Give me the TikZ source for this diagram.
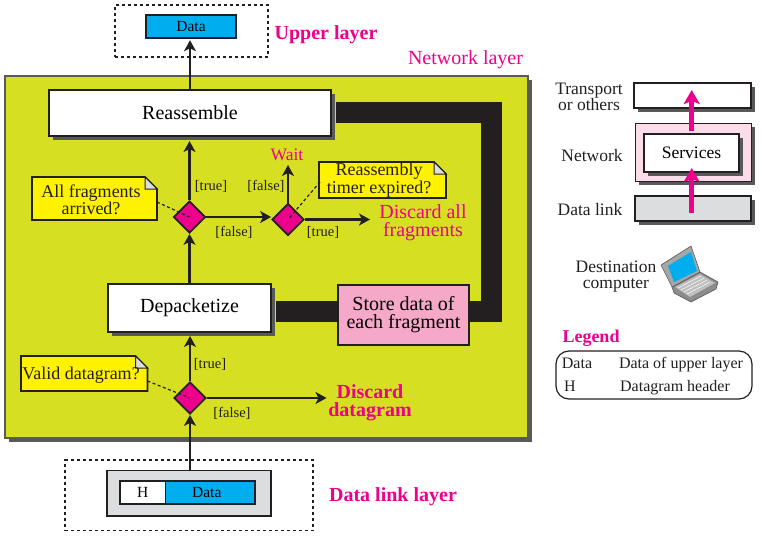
\documentclass[tikz,border=0pt]{standalone}
\usepackage{fontspec}
\setmainfont{Liberation Serif}
\usetikzlibrary{arrows.meta,shadows,shapes.geometric}
\definecolor{panelgreen}{HTML}{D7DF23}
\definecolor{hotpink}{HTML}{EC008C}
\definecolor{noteyellow}{HTML}{FFF200}
\definecolor{skyblue}{HTML}{00AEEF}
\definecolor{storepink}{HTML}{F5A8C8}
\definecolor{palepink}{HTML}{FBDCE8}
\definecolor{palegray}{HTML}{DCDDDE}
\definecolor{inkcol}{HTML}{231F20}
\definecolor{shadecol}{HTML}{58595B}
\tikzset{
    box/.style = {draw=inkcol, line width=1.5pt, inner sep=0pt},
    shadowbox/.style = {box, drop shadow={shadow xshift=4pt, shadow yshift=-4pt, fill=shadecol, opacity=1}},
    dotbox/.style = {draw=inkcol, line width=1.8pt, dash pattern=on 3pt off 3pt, inner sep=0pt},
    decision/.style = {diamond, draw=inkcol, line width=1.8pt, fill=hotpink, inner sep=0pt, minimum width=32pt, minimum height=32pt},
    flow/.style = {draw=inkcol, line width=2.6pt, -{Stealth[length=11pt,width=12pt,inset=3pt]}},
    band/.style = {draw=inkcol, line width=21pt},
    pinkflow/.style = {draw=hotpink, line width=5.5pt, -{Stealth[length=14pt,width=16pt,inset=3pt]}},
    callout/.style = {draw=inkcol, line width=1.2pt, dash pattern=on 3pt off 2.5pt},
    notebox/.style = {draw=inkcol, line width=1.6pt, fill=noteyellow, line join=miter},
    notetext/.style = {inner sep=0pt, align=center, text=inkcol, font=\fontsize{18}{15}\selectfont},
    guard/.style = {inner sep=0pt, text=inkcol, font=\fontsize{14.5}{16}\selectfont},
    side/.style = {inner sep=0pt, align=center, text=inkcol, font=\fontsize{17.5}{16}\selectfont},
    legendtext/.style = {inner sep=0pt, text=inkcol, font=\fontsize{16}{18}\selectfont},
    hot/.style = {inner sep=0pt, align=center, text=hotpink, font=\fontsize{20}{18}\selectfont},
    hotbold/.style = {hot, font=\fontsize{20}{18}\selectfont\bfseries},
}
% x1 y1 x2 y2 of a yellow note with a folded corner
\newcommand{\foldnote}[4]{
    \draw[notebox] (#1,#2) -- (#3-12,#2) -- (#3,#2+12) -- (#3,#4) -- (#1,#4) -- cycle;
    \draw[draw=inkcol, line width=1pt, fill=palegray] (#3-12,#2) -- (#3,#2+12) -- (#3-12,#2+12) -- cycle;
}
\begin{document}
\begin{tikzpicture}[x=1pt, y=-1pt]
    \useasboundingbox (0,0) rectangle (762,536);
    % network layer panel
    \node[draw=shadecol, line width=1.2pt, inner sep=0pt, fill=panelgreen, minimum width=523pt, minimum height=362pt,
        drop shadow={shadow xshift=4pt, shadow yshift=-4pt, fill=shadecol, opacity=1}] (panel) at (266.5,257) {};
    \node[hot] (netlabel) at (465.5,60) {Network layer};

    % upper layer
    \node[dotbox, minimum width=153pt, minimum height=52pt] (upperdash) at (191.5,31) {};
    \node[box, fill=skyblue, minimum width=90pt, minimum height=23pt, font=\fontsize{15.5}{16}\selectfont] (dataup) at (191,26.5) {Data};
    \node[hotbold] (upperlabel) at (326,35) {Upper layer};

    % main boxes
    \node[shadowbox, fill=white, minimum width=282pt, minimum height=46pt, font=\fontsize{20}{18}\selectfont] (reassemble) at (190,113) {Reassemble};
    \node[shadowbox, fill=white, minimum width=163pt, minimum height=48pt, font=\fontsize{20}{18}\selectfont] (depacketize) at (189.5,308) {Depacketize};
    \node[box, fill=storepink, minimum width=131pt, minimum height=60pt, align=center, font=\fontsize{20}{18}\selectfont] (store) at (403.5,315) {Store data of\\each fragment};

    % the thick path round the right side
    \coordinate (bandtop) at (491.5,112.5);
    \coordinate (bandlow) at (491.5,311.5);
    \draw[band, shorten <=4.5pt] (reassemble.east |- bandtop) -- (bandtop) -- (bandlow) -- (store.east |- bandlow);
    \draw[band, shorten <=4.5pt] (depacketize.east |- bandlow) -- (store.west |- bandlow);

    % notes
    \foldnote{32}{177}{157}{220}
    \foldnote{319}{162}{446}{198}
    \foldnote{21}{356}{147.5}{391}
    \node[notetext] (allnote) at (91,199.5) {All fragments\\arrived?};
    \node[notetext] (timernote) at (379,180) {Reassembly\\timer expired?};
    \node[notetext] (validnote) at (81,375) {Valid datagram?};

    % decisions
    \node[decision] (allarrived) at (189.5,217) {};
    \node[decision] (timer) at (288,219.5) {};
    \node[decision] (valid) at (190,398) {};

    \coordinate (allend) at (157,202);
    \coordinate (timerend) at (320,182);
    \coordinate (validend) at (147.5,381);
    \draw[callout] (allend) -- (allarrived.center);
    \draw[callout] (timerend) -- (timer.center);
    \draw[callout] (validend) -- (valid.center);

    % flow
    \coordinate (waitend) at (288,165);
    \coordinate (discardall) at (370,219.5);
    \coordinate (discardgram) at (326.5,398);
    \draw[flow, shorten >=1.5pt] (reassemble.north) -- (dataup.south -| reassemble);
    \draw[flow] (allarrived.north) -- (allarrived.north |- 0,141);
    \draw[flow] (depacketize.north -| allarrived) -- (allarrived.south);
    \draw[flow] (allarrived.east) -- (timer.west |- allarrived);
    \draw[flow] (timer.north) -- (waitend);
    \draw[flow] (timer.east) -- (discardall);
    \draw[flow] (valid.north) -- (valid.north |- 0,336);
    \draw[flow] (valid.east) -- (discardgram);

    % guards
    \node[guard] (truea) at (211,186) {[true]};
    \node[guard] (falsea) at (266,186) {[false]};
    \node[guard] (falseb) at (234,232) {[false]};
    \node[guard] (trueb) at (323,232) {[true]};
    \node[guard] (truec) at (210,364) {[true]};
    \node[guard] (falsec) at (232,413) {[false]};

    \node[hot, font=\fontsize{17.5}{18}\selectfont] (wait) at (287,155) {Wait};
    \node[hot] (discardtext) at (423,223) {Discard all\\fragments};
    \node[hotbold] (discardbold) at (370,403) {Discard\\datagram};

    % data link layer
    \node[dotbox, minimum width=248pt, minimum height=70.5pt] (lowerdash) at (189,495.3) {};
    \node[box, fill=palegray, minimum width=164pt, minimum height=45.5pt] (linkbox) at (189,493) {};
    \node[box, line width=1.2pt, fill=white, minimum width=45.5pt, minimum height=23pt, font=\fontsize{15.5}{16}\selectfont] (header) at (142.75,492.5) {H};
    \node[box, line width=1.2pt, fill=skyblue, minimum width=89.5pt, minimum height=23pt, font=\fontsize{15.5}{16}\selectfont] (datalow) at (210.25,492.5) {\hspace*{-7pt}Data};
    \draw[flow] (valid.south |- linkbox.north) -- (valid.south);
    \node[hotbold] (linklabel) at (393,497) {Data link layer};

    % stack on the right
    \node[shadowbox, fill=white, minimum width=117pt, minimum height=25pt] (transport) at (692.5,95.5) {};
    \node[shadowbox, fill=palepink, line width=1pt, minimum width=116pt, minimum height=58pt] (network) at (693,152) {};
    \node[shadowbox, fill=white, minimum width=95pt, minimum height=38pt, font=\fontsize{17.5}{16}\selectfont] (services) at (691.5,153) {Services};
    \node[shadowbox, fill=palegray, minimum width=116pt, minimum height=25pt] (datalink) at (693,208.5) {};
    \coordinate (lowstart) at (691.7,213);
    \coordinate (lowtip) at (691.7,168);
    \coordinate (upstart) at (691.7,131);
    \coordinate (uptip) at (691.7,90);
    \draw[pinkflow] (lowstart) -- (lowtip);
    \draw[pinkflow] (upstart) -- (uptip);
    \node[side] (transportlabel) at (589,97) {Transport\\or others};
    \node[side] (networklabel) at (592,156) {Network};
    \node[side] (datalinklabel) at (590,210) {Data link};
    \node[side] (destlabel) at (616,277) {Destination\\computer};

    % laptop
    \draw[draw=shadecol, line width=0.6pt, fill=black!45] (672,287) -- (700,272) -- (718,282) -- (716,289) -- (691,302) -- (674,293) -- cycle;
    \draw[draw=none, fill=black!25] (675,287) -- (700,274) -- (715,283) -- (690,297) -- cycle;
    \foreach \k in {0,1,2,3}
        \draw[white, line width=0.5pt] (678+3*\k,288+2*\k) -- (701+3*\k,276+2*\k);
    \draw[draw=shadecol, line width=0.6pt, fill=black!35] (661,265) -- (691,246) -- (700,272) -- (672,287) -- cycle;
    \fill[skyblue] (668,266) -- (691,252) -- (697,271) -- (674,282) -- cycle;

    % legend
    \node[hotbold, font=\fontsize{18}{18}\selectfont\bfseries] (legendtitle) at (591,338) {Legend};
    \node[draw=inkcol, line width=1.2pt, rounded corners=13pt, inner sep=0pt, minimum width=196pt, minimum height=48pt] (legendbox) at (654,375) {};
    \node[legendtext] (legdata) at (577,363) {Data};
    \node[legendtext] (legh) at (570,386) {H};
    \node[legendtext] (legupper) at (681,365) {Data of upper layer};
    \node[legendtext] (legheader) at (675,388) {Datagram header};
\end{tikzpicture}
\end{document}
